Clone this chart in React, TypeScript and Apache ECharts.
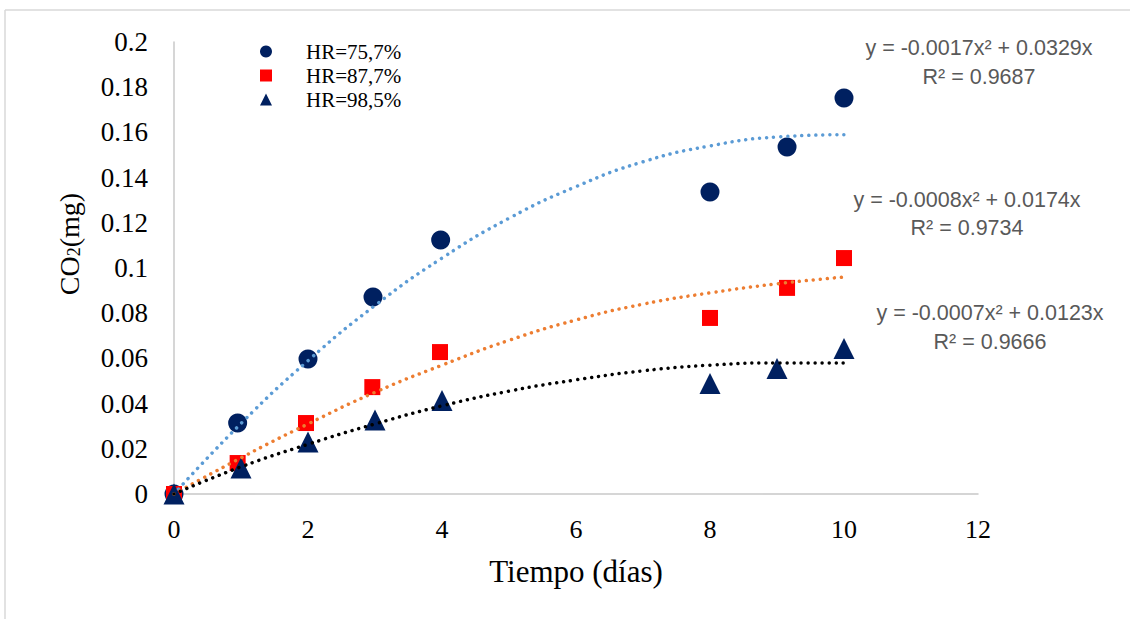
import React, { useEffect, useRef } from "react";
import * as echarts from "echarts";

const seriesNames = ["HR=75,7%", "HR=87,7%", "HR=98,5%"];

const circleX = [0, 0.95, 2, 2.97, 3.98, 8, 9.15, 10];
const circleY = [0, 0.0314, 0.0597, 0.0872, 0.1124, 0.1336, 0.1535, 0.1752];
const squareX = [0, 0.95, 1.97, 2.96, 3.97, 8, 9.15, 10];
const squareY = [0, 0.0137, 0.0314, 0.0473, 0.0628, 0.0779, 0.0912, 0.1044];
const triangleX = [0, 1, 2, 3, 4, 8, 9, 10];
const triangleY = [0, 0.0115, 0.023, 0.0327, 0.0414, 0.0489, 0.0555, 0.0644];

const trendX = [0, 1, 2, 3, 4, 5, 6, 7, 8, 9, 10];
const trend1 = [0, 0.0312, 0.059, 0.0834, 0.1044, 0.122, 0.136, 0.147, 0.154, 0.158, 0.159];
const trend2 = [0, 0.016, 0.031, 0.045, 0.057, 0.068, 0.077, 0.084, 0.089, 0.093, 0.096];
const trend3 = [0, 0.012, 0.022, 0.031, 0.039, 0.0455, 0.0505, 0.0545, 0.057, 0.058, 0.058];

const equations = [
  ["y = -0.0017x² + 0.0329x", "R² = 0.9687"],
  ["y = -0.0008x² + 0.0174x", "R² = 0.9734"],
  ["y = -0.0007x² + 0.0123x", "R² = 0.9666"],
];

const pairs = (xs: number[], ys: number[]) => xs.map((x, i) => [x, ys[i]]);

export default function App() {
  const ref = useRef<HTMLDivElement>(null);
  useEffect(() => {
    if (!ref.current) return;
    const chart = echarts.init(ref.current, null, { renderer: "svg" });
    const serif = "'Liberation Serif', 'Times New Roman', serif";
    const sans = "'Liberation Sans', Arial, sans-serif";
    const eqPos = [
      [979, 48, 77],
      [967, 200, 228],
      [990, 313, 342],
    ];
    const eqGraphics: any[] = [];
    equations.forEach((eq, i) => {
      eq.forEach((line, j) => {
        eqGraphics.push({
          type: "text",
          x: eqPos[i][0],
          y: eqPos[i][1 + j],
          style: {
            text: line,
            fill: "#595959",
            font: `21.5px ${sans}`,
            textAlign: "center",
            textVerticalAlign: "middle",
          },
        });
      });
    });
    const trendStyle = (color: string) => ({
      color,
      width: 3.5,
      type: [0.01, 7],
      cap: "round",
    });
    chart.setOption({
      animation: false,
      backgroundColor: "#ffffff",
      grid: { left: 174, right: 152, top: 42, bottom: 125 },
      xAxis: {
        type: "value",
        min: 0,
        max: 12,
        interval: 2,
        name: "Tiempo (días)",
        nameLocation: "middle",
        nameGap: 62,
        nameTextStyle: { fontFamily: serif, fontSize: 31, color: "#000" },
        axisLine: { show: true, lineStyle: { color: "#c8c8c8", width: 1.5 } },
        axisTick: { show: false },
        splitLine: { show: false },
        axisLabel: { fontFamily: serif, fontSize: 26, color: "#000", margin: 22 },
      },
      yAxis: {
        type: "value",
        min: 0,
        max: 0.2,
        interval: 0.02,
        axisLine: { show: true, lineStyle: { color: "#c8c8c8", width: 1.5 } },
        axisTick: { show: false },
        splitLine: { show: false },
        axisLabel: {
          fontFamily: serif,
          fontSize: 27,
          color: "#000",
          margin: 26,
          formatter: (v: number) => String(+v.toFixed(2)),
        },
      },
      legend: {
        data: seriesNames,
        orient: "vertical",
        left: 255,
        top: 36,
        itemWidth: 12,
        itemHeight: 12,
        itemGap: 3,
        textStyle: {
          fontFamily: serif,
          fontSize: 21,
          color: "#000",
          lineHeight: 20,
          padding: [0, 0, 0, 29],
        },
      },
      graphic: [
        {
          type: "line",
          shape: { x1: 5, y1: 10, x2: 1130, y2: 10 },
          style: { stroke: "#d9d9d9", lineWidth: 1.5 },
        },
        {
          type: "line",
          shape: { x1: 5, y1: 10, x2: 5, y2: 619 },
          style: { stroke: "#d9d9d9", lineWidth: 1.5 },
        },
        {
          type: "text",
          x: 67,
          y: 244,
          rotation: Math.PI / 2,
          style: {
            text: "{m|CO}{s|2}{m|(mg)}",
            textAlign: "center",
            textVerticalAlign: "middle",
            rich: {
              m: { fontFamily: serif, fontSize: 28, fill: "#000", lineHeight: 32, verticalAlign: "bottom" },
              s: { fontFamily: serif, fontSize: 18, fill: "#000", lineHeight: 8, verticalAlign: "bottom" },
            },
          },
        },
        ...eqGraphics,
      ],
      series: [
        {
          name: seriesNames[0],
          type: "scatter",
          symbol: "circle",
          symbolSize: 19,
          itemStyle: { color: "#002060", opacity: 1 },
          data: pairs(circleX, circleY),
          z: 2,
        },
        {
          name: seriesNames[1],
          type: "scatter",
          symbol: "rect",
          symbolSize: 16,
          itemStyle: { color: "#ff0000", opacity: 1 },
          data: pairs(squareX, squareY),
          z: 2,
        },
        {
          name: seriesNames[2],
          type: "scatter",
          symbol: "triangle",
          symbolSize: [21, 21],
          itemStyle: { color: "#002060", opacity: 1 },
          data: pairs(triangleX, triangleY),
          z: 2,
        },
        {
          name: "trend1",
          type: "line",
          smooth: true,
          showSymbol: false,
          lineStyle: trendStyle("#5b9bd5"),
          data: pairs(trendX, trend1),
          z: 3,
        },
        {
          name: "trend2",
          type: "line",
          smooth: true,
          showSymbol: false,
          lineStyle: trendStyle("#ed7d31"),
          data: pairs(trendX, trend2),
          z: 3,
        },
        {
          name: "trend3",
          type: "line",
          smooth: true,
          showSymbol: false,
          lineStyle: trendStyle("#000000"),
          data: pairs(trendX, trend3),
          z: 3,
        },
      ],
    });
    return () => chart.dispose();
  }, []);
  return (
    <div
      ref={ref}
      style={{ position: "fixed", left: 0, top: 0, width: 1130, height: 619, background: "#fff" }}
    />
  );
}
